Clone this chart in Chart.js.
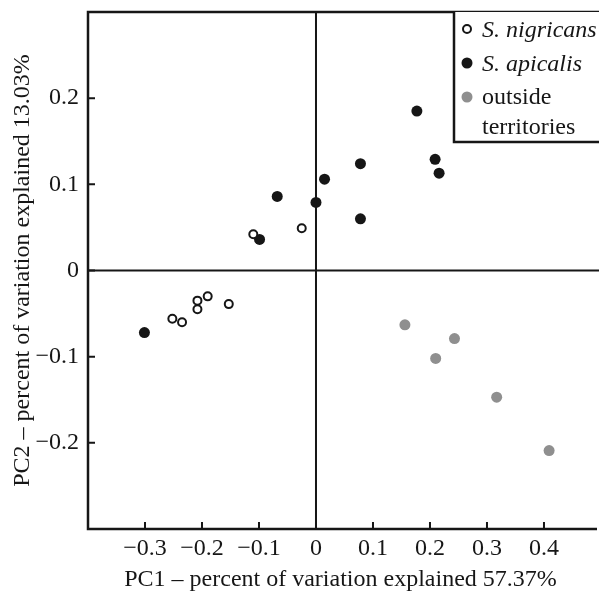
<!DOCTYPE html>
<html>
<head>
<meta charset="utf-8">
<script src="https://cdn.jsdelivr.net/npm/chart.js@4.4.1/dist/chart.umd.min.js"></script>
<style>
  html, body { margin: 0; padding: 0; background: #fff; }
  #wrap { width: 599px; height: 593px; position: relative; }
</style>
</head>
<body>
<div id="wrap"><canvas id="pca"></canvas></div>
<script>
// PC scores
const nigricansPC1 = [-0.110, -0.025, -0.252, -0.235, -0.208, -0.208, -0.190, -0.153];
const nigricansPC2 = [0.042, 0.049, -0.056, -0.060, -0.045, -0.035, -0.030, -0.039];

const apicalisPC1 = [-0.099, -0.068, 0.000, 0.015, 0.078, 0.078, 0.177, 0.209, 0.216, -0.301];
const apicalisPC2 = [0.036, 0.086, 0.079, 0.106, 0.124, 0.060, 0.185, 0.129, 0.113, -0.072];

const outsidePC1 = [0.156, 0.243, 0.210, 0.317, 0.409];
const outsidePC2 = [-0.063, -0.079, -0.102, -0.147, -0.209];

const xTickValues = [-0.3, -0.2, -0.1, 0, 0.1, 0.2, 0.3, 0.4];
const yTickValues = [-0.2, -0.1, 0, 0.1, 0.2];

const seriesNames = ["S. nigricans", "S. apicalis", "outside territories"];

const FONT = "'Liberation Serif', 'Times New Roman', serif";
const INK = "#161616";
const GREY = "#8f8f8f";

const toPoints = (xs, ys) => xs.map((x, i) => ({ x: x, y: ys[i] }));

const fmtTick = (v) => {
  const r = Math.round(v * 10) / 10;
  if (r === 0) return "0";
  return (r < 0 ? "\u2212" : "") + Math.abs(r).toFixed(1);
};

// no extra room for end labels, the frame is fixed
const noEdgePadding = (scale) => {
  scale.paddingTop = 0;
  scale.paddingBottom = 0;
  scale.paddingLeft = 0;
  scale.paddingRight = 0;
};

// frame, zero lines, inward ticks and boxed legend
const framePlugin = {
  id: "frame",
  afterDraw(chart) {
    const { ctx, chartArea: a, scales } = chart;
    const x0 = scales.x.getPixelForValue(0);
    const y0 = scales.y.getPixelForValue(0);
    const edge = chart.width; // plot runs off the right side of the figure
    ctx.save();
    ctx.strokeStyle = INK;
    ctx.lineCap = "butt";

    // zero lines
    ctx.lineWidth = 2;
    ctx.beginPath();
    ctx.moveTo(x0, a.top);
    ctx.lineTo(x0, a.bottom);
    ctx.moveTo(a.left, y0);
    ctx.lineTo(edge, y0);
    ctx.stroke();

    // inward tick marks
    ctx.lineWidth = 2;
    ctx.beginPath();
    xTickValues.forEach((v) => {
      const px = scales.x.getPixelForValue(v);
      ctx.moveTo(px, a.bottom);
      ctx.lineTo(px, a.bottom - 7);
    });
    yTickValues.forEach((v) => {
      const py = scales.y.getPixelForValue(v);
      ctx.moveTo(a.left, py);
      ctx.lineTo(a.left + 7, py);
    });
    ctx.stroke();

    // frame
    ctx.lineWidth = 2.5;
    ctx.beginPath();
    ctx.moveTo(edge, a.top);
    ctx.lineTo(a.left, a.top);
    ctx.lineTo(a.left, a.bottom);
    ctx.lineTo(edge - 2, a.bottom);
    ctx.stroke();

    // legend box
    const lx = 454, ly = a.top, lb = 142;
    ctx.fillStyle = "#fff";
    ctx.fillRect(lx, ly, 200, lb - ly);
    ctx.lineWidth = 2.5;
    ctx.beginPath();
    ctx.moveTo(lx, ly);
    ctx.lineTo(lx, lb);
    ctx.lineTo(edge, lb);
    ctx.stroke();

    const mx = 467, tx = 482;
    const rows = [29, 63, 97];
    chart.data.datasets.forEach((ds, i) => {
      ctx.beginPath();
      ctx.arc(mx, rows[i], ds.pointRadius, 0, Math.PI * 2);
      ctx.fillStyle = ds.backgroundColor;
      ctx.fill();
      if (ds.borderWidth > 0) {
        ctx.lineWidth = ds.borderWidth;
        ctx.strokeStyle = ds.borderColor;
        ctx.stroke();
      }
    });
    ctx.fillStyle = INK;
    ctx.textBaseline = "alphabetic";
    ctx.textAlign = "left";
    ctx.font = "italic 24px " + FONT;
    ctx.fillText(seriesNames[0], tx, 37);
    ctx.fillText(seriesNames[1], tx, 71);
    ctx.font = "24px " + FONT;
    ctx.fillText("outside", tx, 104);
    ctx.fillText("territories", tx, 134);
    ctx.restore();
  },
};

const ctx = document.getElementById("pca").getContext("2d");
new Chart(ctx, {
  type: "scatter",
  data: {
    datasets: [
      {
        label: seriesNames[0],
        data: toPoints(nigricansPC1, nigricansPC2),
        pointRadius: 4,
        borderWidth: 2,
        borderColor: INK,
        backgroundColor: "#fff",
        pointHoverRadius: 4,
      },
      {
        label: seriesNames[1],
        data: toPoints(apicalisPC1, apicalisPC2),
        pointRadius: 5.5,
        borderWidth: 0,
        borderColor: INK,
        backgroundColor: INK,
        pointHoverRadius: 5.5,
      },
      {
        label: seriesNames[2],
        data: toPoints(outsidePC1, outsidePC2),
        pointRadius: 5.5,
        borderWidth: 0,
        borderColor: GREY,
        backgroundColor: GREY,
        pointHoverRadius: 5.5,
      },
    ],
  },
  options: {
    responsive: true,
    maintainAspectRatio: false,
    animation: false,
    devicePixelRatio: 1,
    layout: { padding: { top: 12, right: 1, left: 0, bottom: 0 } },
    plugins: {
      legend: { display: false },
      tooltip: { enabled: false },
    },
    scales: {
      x: {
        type: "linear",
        min: -0.4,
        max: 0.486,
        afterBuildTicks: (scale) => {
          scale.ticks = xTickValues.map((v) => ({ value: v }));
        },
        afterFit: (scale) => {
          scale.height = 64;
          noEdgePadding(scale);
        },
        grid: { display: false, drawTicks: false },
        border: { display: false },
        ticks: {
          color: INK,
          font: { family: FONT, size: 24 },
          padding: 5,
          maxRotation: 0,
          autoSkip: false,
          callback: (v) => fmtTick(v),
        },
        title: {
          display: true,
          text: "PC1 \u2013 percent of variation explained 57.37%",
          color: INK,
          font: { family: FONT, size: 24 },
          padding: { top: 0, bottom: -1 },
        },
      },
      y: {
        type: "linear",
        min: -0.3,
        max: 0.3,
        afterBuildTicks: (scale) => {
          scale.ticks = yTickValues.map((v) => ({ value: v }));
        },
        afterFit: (scale) => {
          scale.width = 88;
          noEdgePadding(scale);
        },
        grid: { display: false, drawTicks: false },
        border: { display: false },
        ticks: {
          color: INK,
          font: { family: FONT, size: 24 },
          padding: 9,
          autoSkip: false,
          callback: (v) => fmtTick(v),
        },
        title: {
          display: true,
          text: "PC2 \u2013 percent of variation explained 13.03%",
          color: INK,
          font: { family: FONT, size: 24 },
          padding: { top: 8, bottom: 0 },
        },
      },
    },
  },
  plugins: [framePlugin],
});
</script>
</body>
</html>
